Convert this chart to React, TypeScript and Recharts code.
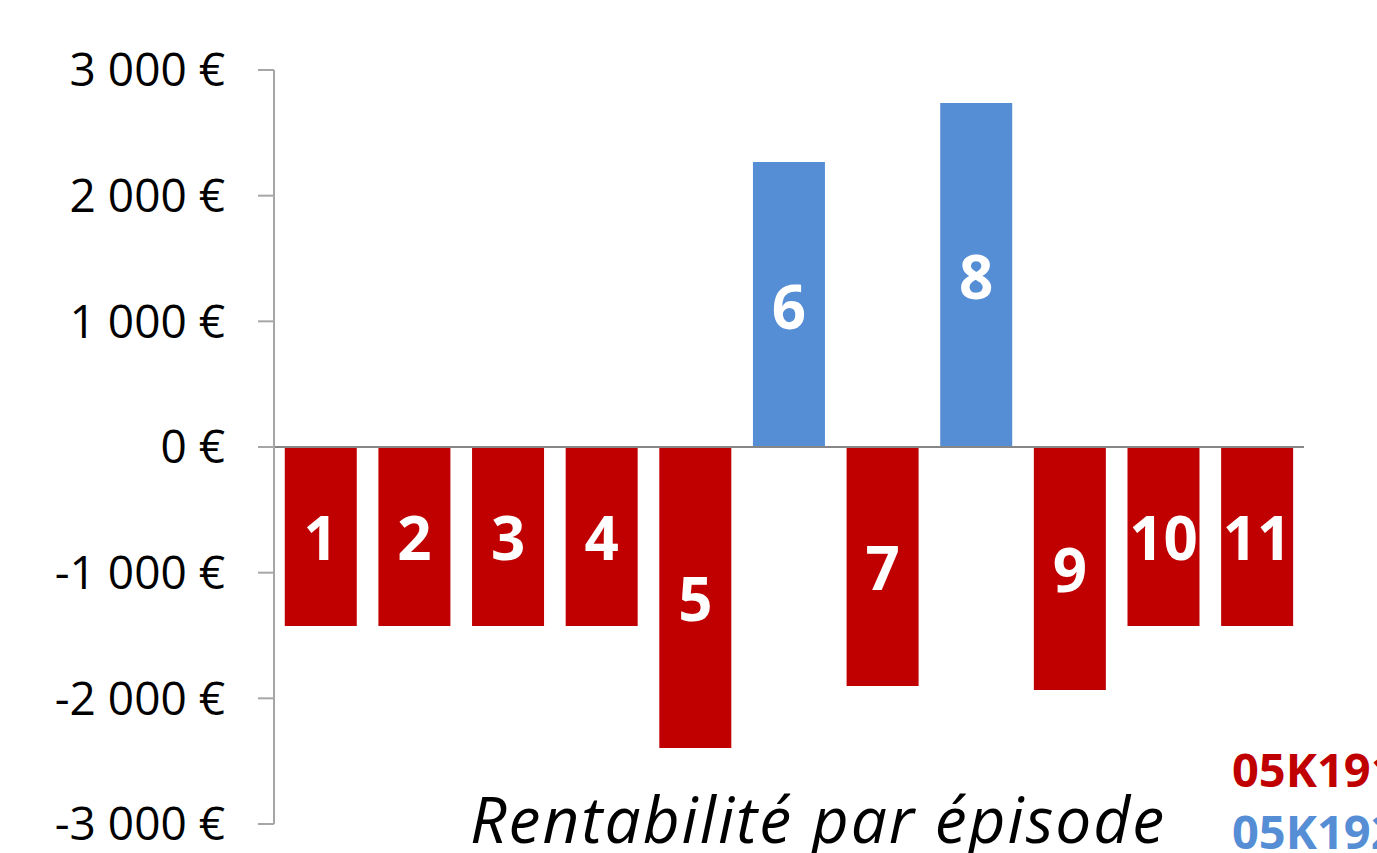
import React from 'react'
import { BarChart, Bar, XAxis, YAxis, ReferenceLine, LabelList, Legend } from 'recharts'

const episodes = ['1', '2', '3', '4', '5', '6', '7', '8', '9', '10', '11']
const serie191 = [-1424, -1424, -1424, -1424, -2395, 0, -1901, 0, -1933, -1424, -1424]
const serie192 = [0, 0, 0, 0, 0, 2267, 0, 2737, 8, 8, 8]
const yTicks = [-3000, -2000, -1000, 0, 1000, 2000, 3000]

const RED = '#C00000'
const BLUE = '#558ED5'
const FONT = '"Open Sans", "Noto Sans", sans-serif'

// the episode number is written on whichever bar is visible
const data = episodes.map((ep, i) => ({
  ep,
  s191: serie191[i],
  s192: serie192[i],
  lab191: Math.abs(serie191[i]) > 100 ? ep : '',
  lab192: Math.abs(serie192[i]) > 100 ? ep : '',
}))

const fmt = (v: number) => {
  const abs = Math.abs(v)
  const s = abs >= 1000 ? `${Math.floor(abs / 1000)} ${String(abs % 1000).padStart(3, '0')}` : String(abs)
  return `${v < 0 ? '-' : ''}${s} €`
}

const EpLabel = (props: any) => {
  const { x, y, width, height, value } = props
  if (!value) return null
  return (
    <text
      x={x + width / 2}
      y={y + height / 2 + 1}
      textAnchor="middle"
      dominantBaseline="central"
      fill="#fff"
      fontFamily={FONT}
      fontWeight={700}
      fontSize={60}
    >
      {value}
    </text>
  )
}

const LegendBox = (props: any) => (
  <div style={{ fontFamily: FONT, fontWeight: 700, fontSize: 47, lineHeight: '62px', whiteSpace: 'nowrap' }}>
    {props.payload.map((p: any) => (
      <div key={p.value} style={{ color: p.color }}>{p.value}</div>
    ))}
  </div>
)

export default function App() {
  return (
    <div style={{ position: 'absolute', left: 0, top: 0, width: 1377, height: 853, overflow: 'hidden', background: '#fff' }}>
      <BarChart
        width={1377}
        height={853}
        data={data}
        stackOffset="sign"
        barCategoryGap="11.5%"
        margin={{ top: 70, right: 73, bottom: 29, left: 0 }}
      >
        <XAxis dataKey="ep" hide />
        <YAxis
          width={274}
          domain={[-3000, 3000]}
          ticks={yTicks}
          interval={0}
          tickFormatter={fmt}
          tickSize={16}
          tickMargin={33}
          axisLine={{ stroke: '#a6a6a6', strokeWidth: 2 }}
          tickLine={{ stroke: '#a6a6a6', strokeWidth: 2 }}
          tick={{ fill: '#000', fontSize: 46, fontFamily: FONT }}
        />
        <Bar dataKey="s191" name="05K191" stackId="a" fill={RED} isAnimationActive={false}>
          <LabelList dataKey="lab191" content={EpLabel} />
        </Bar>
        <Bar dataKey="s192" name="05K192" stackId="a" fill={BLUE} isAnimationActive={false}>
          <LabelList dataKey="lab192" content={EpLabel} />
        </Bar>
        <ReferenceLine y={0} stroke="#868686" strokeWidth={2} />
        <Legend
          layout="vertical"
          verticalAlign="middle"
          align="center"
          content={LegendBox}
          wrapperStyle={{ left: 1232, top: 738, width: 'auto' }}
        />
      </BarChart>
      <div
        style={{
          position: 'absolute',
          left: 470,
          top: 775,
          fontFamily: FONT,
          fontStyle: 'italic',
          fontSize: 64,
          letterSpacing: 2,
          color: '#000',
          whiteSpace: 'nowrap',
        }}
      >
        Rentabilité par épisode
      </div>
    </div>
  )
}
